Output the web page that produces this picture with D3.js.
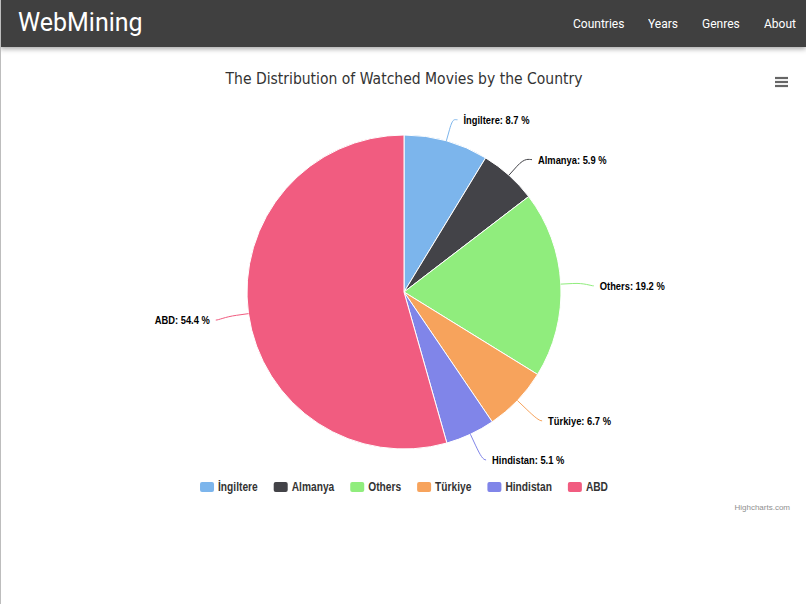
<!DOCTYPE html>
<html>
<head>
<meta charset="utf-8">
<script src="https://cdn.jsdelivr.net/npm/d3@7"></script>
<style>
  html, body { margin: 0; padding: 0; background: #fff; }
  body { width: 806px; height: 604px; overflow: hidden; position: relative; }
  .nav { position: absolute; left: 0; top: 0; width: 806px; height: 47px; background: #404040;
         box-shadow: 0 2px 5px rgba(0,0,0,0.35); z-index: 2; }
  .brand { position: absolute; left: 18px; top: 7px; font-family: Roboto, sans-serif; font-size: 26px; color: #fff;
           transform: scaleX(0.96); transform-origin: left center; }
  .menu { position: absolute; top: 15px; font-family: Roboto, sans-serif; font-size: 13.5px; color: #fff;
          transform: scaleX(0.89); transform-origin: left center; }
  .leftline { position: absolute; left: 0; top: 0; width: 1px; height: 604px; background: #bdbdbd; z-index: 3; }
  svg { position: absolute; left: 0; top: 0; }
</style>
</head>
<body>
<div class="nav">
  <div class="brand">WebMining</div>
  <div class="menu" style="left:573px">Countries</div>
  <div class="menu" style="left:648px">Years</div>
  <div class="menu" style="left:702px">Genres</div>
  <div class="menu" style="left:764px">About</div>
</div>
<div class="leftline"></div>
<svg id="chart" width="806" height="604"></svg>
<script>
const categories = ["İngiltere", "Almanya", "Others", "Türkiye", "Hindistan", "ABD"];
const values = [8.7, 5.9, 19.2, 6.7, 5.1, 54.4];
const colors = ["#7cb5ec", "#434348", "#90ed7d", "#f7a35c", "#8085e9", "#f15c80"];
const titleText = "The Distribution of Watched Movies by the Country";

const svg = d3.select("#chart");
const cx = 404, cy = 292, r = 157, labelDist = 30, labelDistY = 25, connOff = 12;
const narrow = 0.85;

function condense(sel, factor) {
  const w = sel.node().getComputedTextLength();
  if (w > 0) sel.attr("textLength", w * factor).attr("lengthAdjust", "spacingAndGlyphs");
  return w * factor;
}

// Title
const title = svg.append("text")
  .attr("x", cx).attr("y", 84)
  .attr("text-anchor", "middle")
  .attr("font-family", "'DejaVu Sans', sans-serif")
  .attr("font-size", 15)
  .attr("fill", "#333333")
  .text(titleText);
const tw = title.node().getComputedTextLength();
if (tw > 0) title.attr("textLength", 357).attr("lengthAdjust", "spacingAndGlyphs");

// Menu icon
const menuG = svg.append("g").attr("stroke", "#666").attr("stroke-width", 2.2);
[78, 82, 86].forEach(y => menuG.append("line").attr("x1", 775).attr("x2", 788).attr("y1", y).attr("y2", y));

// Pie
const data = categories.map((c, i) => ({ name: c, value: values[i], color: colors[i] }));
const pie = d3.pie().value(d => d.value).sort(null).startAngle(0).endAngle(2 * Math.PI);
const arcs = pie(data);
const arc = d3.arc().innerRadius(0).outerRadius(r);

const g = svg.append("g").attr("transform", `translate(${cx},${cy})`);
g.selectAll("path.slice").data(arcs).enter().append("path")
  .attr("class", "slice")
  .attr("d", arc)
  .attr("fill", d => d.data.color)
  .attr("stroke", "#ffffff")
  .attr("stroke-width", 1)
  .attr("stroke-linejoin", "round");

// Data labels
const labelFont = "'Liberation Sans', Arial, sans-serif";
arcs.forEach(d => {
  const a = (d.startAngle + d.endAngle) / 2;
  const s = Math.sin(a), c = Math.cos(a);
  const sign = s >= 0 ? 1 : -1;
  const R = r + labelDist;
  const ly0 = -R * c;
  const lx = sign * Math.sqrt(Math.max(0, R * R - ly0 * ly0));
  const ly = -(r + labelDistY) * c + 3;
  const bx = s * (r + connOff), by = -c * (r + connOff);
  const ex = s * r, ey = -c * r;
  const sx = lx + sign * 3;
  const path = `M${sx},${ly} C${lx},${ly} ${2 * bx - ex},${2 * by - ey} ${bx},${by} L${ex},${ey}`;
  g.append("path").attr("d", path).attr("fill", "none")
    .attr("stroke", d.data.color).attr("stroke-width", 1);
  const t = g.append("text")
    .attr("x", lx + sign * 9)
    .attr("y", ly + 4)
    .attr("text-anchor", sign > 0 ? "start" : "end")
    .attr("font-family", labelFont)
    .attr("font-weight", "bold")
    .attr("font-size", 11)
    .attr("fill", "#000000")
    .attr("stroke", "#ffffff").attr("stroke-width", 2).attr("paint-order", "stroke")
    .attr("stroke-opacity", 0.6)
    .text(`${d.data.name}: ${d3.format(".1f")(d.data.value)} %`);
  condense(t, narrow);
});

// Legend
const legend = svg.append("g");
const items = [];
let total = 0;
const symW = 14, symH = 10, symGap = 4, itemGap = 16, legY = 487;
data.forEach((d, i) => {
  const it = legend.append("g");
  it.append("rect").attr("width", symW).attr("height", symH).attr("rx", 2)
    .attr("y", legY - symH / 2).attr("fill", d.color);
  const t = it.append("text").attr("x", symW + symGap).attr("y", legY + 4)
    .attr("font-family", labelFont).attr("font-weight", "bold").attr("font-size", 12)
    .attr("fill", "#333333").text(d.name);
  const w = symW + symGap + condense(t, narrow);
  items.push({ it, w });
  total += w + (i < data.length - 1 ? itemGap : 0);
});
let x0 = cx - total / 2;
items.forEach(o => { o.it.attr("transform", `translate(${x0},0)`); x0 += o.w + itemGap; });

// Credits
svg.append("text").attr("x", 790).attr("y", 510).attr("text-anchor", "end")
  .attr("font-family", "'Liberation Sans', Arial, sans-serif").attr("font-size", 8)
  .attr("fill", "#909090").text("Highcharts.com");
</script>
</body>
</html>
